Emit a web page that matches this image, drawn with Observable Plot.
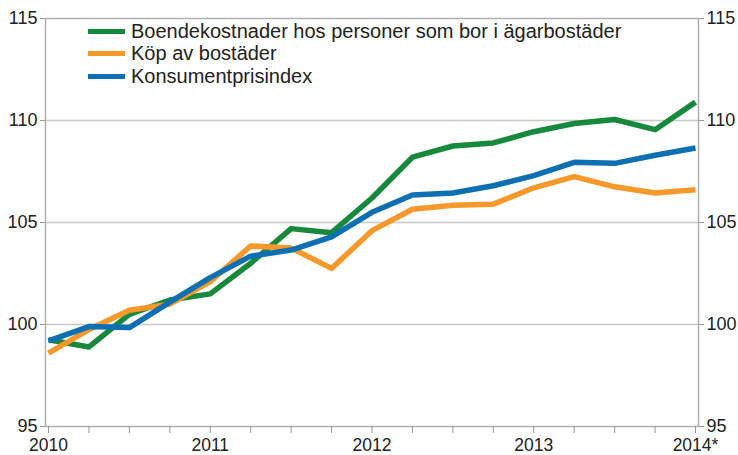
<!DOCTYPE html>
<html>
<head>
<meta charset="utf-8">
<script src="https://cdn.jsdelivr.net/npm/d3@7"></script>
<script src="https://cdn.jsdelivr.net/npm/@observablehq/plot@0.6"></script>
<style>
  html, body { margin: 0; padding: 0; background: #fff; }
  #wrap { position: relative; width: 738px; height: 455px; font-family: "Liberation Sans", Arial, sans-serif; }
  #legend { position: absolute; left: 88px; top: 20px; font-size: 20px; color: #222; }
  .item { display: flex; align-items: center; height: 22.5px; }
  .sw { width: 37px; height: 5px; margin-right: 6px; }
</style>
</head>
<body>
<div id="wrap"><div id="legend"></div></div>
<script>
const periods = ["2010K1","2010K2","2010K3","2010K4","2011K1","2011K2","2011K3","2011K4","2012K1","2012K2","2012K3","2012K4","2013K1","2013K2","2013K3","2013K4","2014K1"];
const seriesNames = ["Boendekostnader hos personer som bor i ägarbostäder", "Köp av bostäder", "Konsumentprisindex"];
const seriesColors = ["#17893d", "#f7982b", "#0f6fb3"];
const boende = [99.25, 98.9, 100.5, 101.2, 101.5, 103.0, 104.7, 104.5, 106.2, 108.2, 108.75, 108.9, 109.45, 109.85, 110.05, 109.55, 110.9];
const kop = [98.6, 99.75, 100.7, 101.0, 102.1, 103.85, 103.75, 102.75, 104.6, 105.65, 105.85, 105.9, 106.7, 107.25, 106.75, 106.45, 106.6];
const kpi = [99.2, 99.9, 99.85, 101.1, 102.3, 103.35, 103.65, 104.3, 105.5, 106.35, 106.45, 106.8, 107.3, 107.95, 107.9, 108.3, 108.65];
const xTickLabels = {0: "2010", 4: "2011", 8: "2012", 12: "2013", 16: "2014*"};
const yTicks = [95, 100, 105, 110, 115];

const valuesBySeries = [boende, kop, kpi];
const data = [];
valuesBySeries.forEach((vals, s) => vals.forEach((v, i) => data.push({i, period: periods[i], series: seriesNames[s], value: v})));

const chart = Plot.plot({
  width: 738,
  height: 455,
  marginLeft: 45,
  marginRight: 40,
  marginTop: 18,
  marginBottom: 29,
  style: {fontFamily: '"Liberation Sans", Arial, sans-serif', fontSize: "18px", color: "#222", background: "transparent"},
  x: {domain: [0, periods.length - 1], insetLeft: 3, insetRight: 3, label: null},
  y: {domain: [95, 115], label: null},
  color: {domain: seriesNames, range: seriesColors},
  marks: [
    Plot.ruleY(yTicks.slice(1, -1), {stroke: "#c8c8c8", strokeWidth: 1.5}),
    Plot.frame({stroke: "#b0b0b0", strokeWidth: 1.5}),
    Plot.axisY(yTicks, {anchor: "left", label: null, tickSize: 5, tickPadding: 3, stroke: "#999", fill: "#222", fontSize: 18}),
    Plot.axisY(yTicks, {anchor: "right", label: null, tickSize: 5, tickPadding: 3, stroke: "#999", fill: "#222", fontSize: 18}),
    Plot.axisX(d3.range(periods.length), {anchor: "bottom", label: null, tickSize: 7, tickPadding: 5, stroke: "#999", fill: "#222", fontSize: 17.5, tickFormat: d => xTickLabels[d] ?? ""}),
    Plot.line(data, {x: "i", y: "value", z: "series", stroke: "series", strokeWidth: 5.5, strokeLinejoin: "round", strokeLinecap: "butt"})
  ]
});
document.getElementById("wrap").prepend(chart);
chart.style.position = "absolute";
chart.style.left = "0";
chart.style.top = "0";

const legend = document.getElementById("legend");
seriesNames.forEach((name, k) => {
  const row = document.createElement("div");
  row.className = "item";
  const sw = document.createElement("div");
  sw.className = "sw";
  sw.style.background = seriesColors[k];
  const t = document.createElement("span");
  t.textContent = name;
  row.append(sw, t);
  legend.append(row);
});
</script>
</body>
</html>
